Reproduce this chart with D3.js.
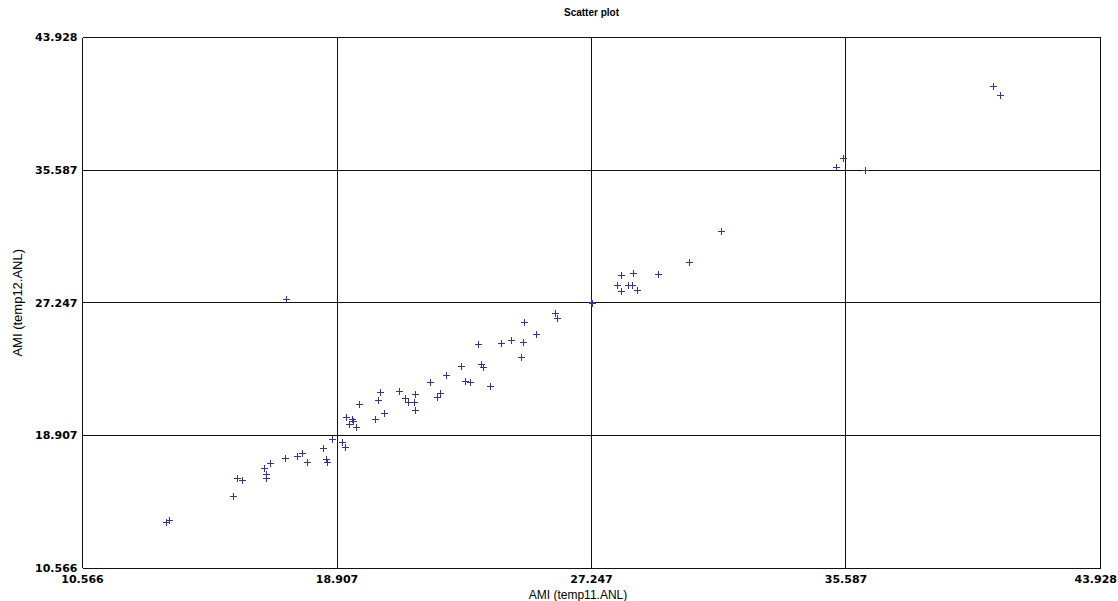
<!DOCTYPE html>
<html>
<head>
<meta charset="utf-8">
<script src="https://cdn.jsdelivr.net/npm/d3@7"></script>
<style>
  body { margin: 0; background: #fff; }
  svg { display: block; }
</style>
</head>
<body>
<div id="chart"></div>
<script>
const width = 1118;
const height = 601;

// x values (AMI temp11.ANL)
const xVals = [
  13.293, 13.391, 15.482, 15.619, 15.783, 16.514, 16.570, 16.570, 16.701, 17.212,
  17.596, 17.759, 17.933, 18.448, 18.546, 18.589, 18.753, 19.077, 19.169, 19.192,
  19.310, 19.382, 19.441, 19.529, 19.637, 20.168, 20.250, 20.316, 20.437, 20.938,
  21.125, 21.233, 21.420, 21.473, 21.473, 21.938, 22.174, 22.292, 22.489, 22.980,
  23.111, 23.255, 23.537, 23.616, 23.701, 23.911, 24.291, 24.619, 24.946, 25.012,
  25.035, 25.418, 26.061, 26.116, 27.221, 27.273, 28.092, 28.214, 28.214, 28.453,
  28.564, 28.597, 28.748, 29.426, 30.452, 31.491, 35.260, 35.489, 36.200, 40.415,
  40.644, 17.245
];
// y values (AMI temp12.ANL), same order
const yVals = [
  13.439, 13.615, 15.073, 16.243, 16.098, 16.834, 16.456, 16.224, 17.148, 17.481,
  17.588, 17.777, 17.249, 18.091, 17.437, 17.249, 18.669, 18.468, 18.154, 20.040,
  19.600, 19.952, 19.820, 19.411, 20.876, 19.933, 21.108, 21.618, 20.310, 21.674,
  21.253, 20.983, 20.983, 21.504, 20.499, 22.290, 21.297, 21.586, 22.718, 23.283,
  22.340, 22.240, 24.635, 23.409, 23.183, 21.995, 24.692, 24.918, 23.830, 24.773,
  26.012, 25.276, 26.578, 26.282, 27.307, 27.206, 28.375, 28.985, 27.961, 28.375,
  28.338, 29.130, 28.061, 29.048, 29.821, 31.732, 35.775, 36.359, 35.605, 40.885,
  40.282, 27.495
];

const tickVals = [10.566, 18.907, 27.247, 35.587, 43.928];
const tickLabels = ["10.566", "18.907", "27.247", "35.587", "43.928"];

const title = "Scatter plot";
const xTitle = "AMI (temp11.ANL)";
const yTitle = "AMI (temp12.ANL)";

const points = xVals.map((v, i) => ({ x: v, y: yVals[i] }));

const margin = { left: 82.5, right: 17.5, top: 37.5, bottom: 33 };

const x = d3.scaleLinear()
  .domain([tickVals[0], tickVals[tickVals.length - 1]])
  .range([margin.left, width - margin.right]);
const y = d3.scaleLinear()
  .domain([tickVals[0], tickVals[tickVals.length - 1]])
  .range([height - margin.bottom, margin.top]);

const svg = d3.select("#chart").append("svg")
  .attr("width", width)
  .attr("height", height);

// grid lines
const grid = svg.append("g")
  .attr("stroke", "#111")
  .attr("stroke-width", 1)
  .attr("shape-rendering", "crispEdges");

grid.selectAll(".vgrid").data(tickVals)
  .join("line")
  .attr("class", "vgrid")
  .attr("x1", d => x(d)).attr("x2", d => x(d))
  .attr("y1", y.range()[1]).attr("y2", y.range()[0]);

grid.selectAll(".hgrid").data(tickVals)
  .join("line")
  .attr("class", "hgrid")
  .attr("y1", d => y(d)).attr("y2", d => y(d))
  .attr("x1", x.range()[0]).attr("x2", x.range()[1]);

// tick labels
svg.append("g")
  .attr("font-family", "DejaVu Sans")
  .attr("font-weight", "bold")
  .attr("font-size", 11)
  .attr("fill", "#000")
  .selectAll("text").data(tickVals)
  .join("text")
  .attr("x", margin.left - 5)
  .attr("y", d => y(d))
  .attr("dy", "0.36em")
  .attr("text-anchor", "end")
  .text((d, i) => tickLabels[i]);

// last x label would run past the window edge, so keep it inside
const last = tickVals.length - 1;
svg.append("g")
  .attr("font-family", "DejaVu Sans")
  .attr("font-weight", "bold")
  .attr("font-size", 11)
  .attr("fill", "#000")
  .selectAll("text").data(tickVals)
  .join("text")
  .attr("x", (d, i) => i === last ? width - 1 : x(d))
  .attr("y", height - margin.bottom + 15)
  .attr("text-anchor", (d, i) => i === last ? "end" : "middle")
  .text((d, i) => tickLabels[i]);

// titles
svg.append("text")
  .attr("x", (x.range()[0] + x.range()[1]) / 2)
  .attr("y", 16)
  .attr("text-anchor", "middle")
  .attr("font-family", "Liberation Sans")
  .attr("font-weight", "bold")
  .attr("font-size", 10)
  .text(title);

svg.append("text")
  .attr("x", 578)
  .attr("y", 599)
  .attr("text-anchor", "middle")
  .attr("font-family", "Liberation Sans")
  .attr("font-size", 12)
  .text(xTitle);

svg.append("text")
  .attr("transform", `translate(22,${(y.range()[0] + y.range()[1]) / 2}) rotate(-90)`)
  .attr("text-anchor", "middle")
  .attr("font-family", "Liberation Sans")
  .attr("font-size", 13)
  .text(yTitle);

// markers
svg.append("g")
  .attr("stroke", "#33339a")
  .attr("stroke-width", 1)
  .attr("fill", "none")
  .attr("shape-rendering", "crispEdges")
  .selectAll("path").data(points)
  .join("path")
  .attr("transform", d => `translate(${Math.round(x(d.x)) + 0.5},${Math.round(y(d.y)) + 0.5})`)
  .attr("d", "M-3.5,0H3.5M0,-3.5V3.5");
</script>
</body>
</html>
